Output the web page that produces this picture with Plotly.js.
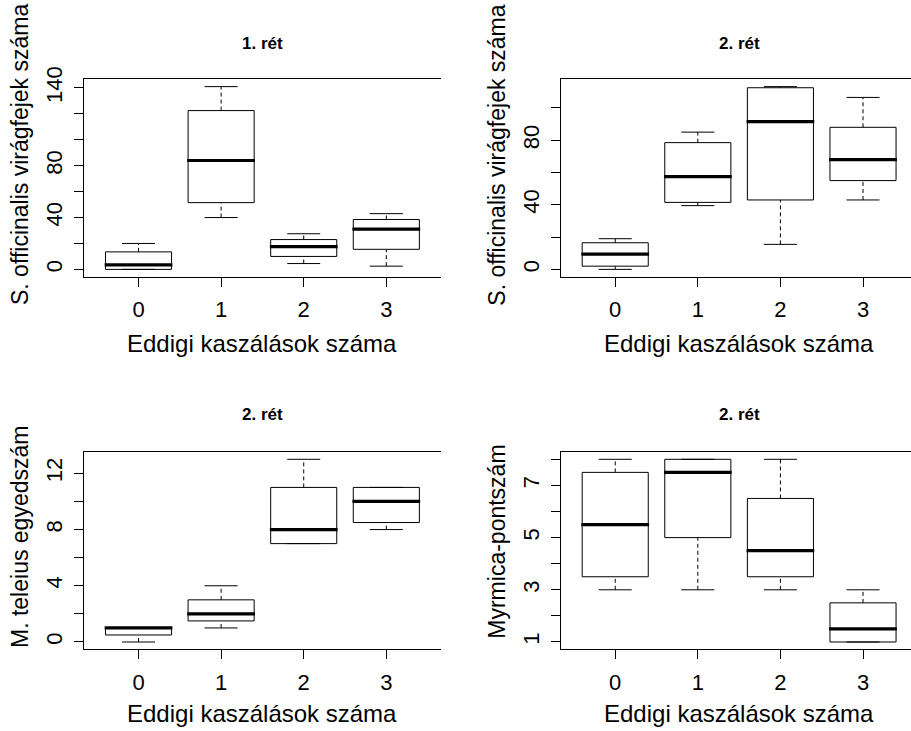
<!DOCTYPE html>
<html>
<head>
<meta charset="utf-8">
<script src="https://cdn.plot.ly/plotly-3.0.1.min.js"></script>
<style>html,body{margin:0;padding:0;background:#fff;}#chart{width:911px;height:731px;}</style>
</head>
<body>
<div id="chart"></div>
<script>
// categories (number of previous mowings)
const categories = [0, 1, 2, 3];
const xTickLabels = ['0', '1', '2', '3'];

// Panel 1: 1. rét, S. officinalis virágfejek száma
const p1Lower  = [0, 40, 4.5, 2.5];
const p1Q1     = [0, 51.5, 10, 15.5];
const p1Median = [3.5, 84, 17.5, 31];
const p1Q3     = [13.5, 122.5, 23, 38.5];
const p1Upper  = [20, 141, 27.5, 43];
const p1TickVals = [0, 20, 40, 60, 80, 100, 120, 140];
const p1TickText = ['0', '', '40', '', '80', '', '', '140'];

// Panel 2: 2. rét, S. officinalis virágfejek száma
const p2Lower  = [0, 39.5, 15.5, 43];
const p2Q1     = [2, 41.5, 43, 55];
const p2Median = [9.5, 57.5, 91.5, 68];
const p2Q3     = [16.5, 78.5, 112.5, 88];
const p2Upper  = [19, 85, 113.2, 106.5];
const p2TickVals = [0, 20, 40, 60, 80, 100];
const p2TickText = ['0', '', '40', '', '80', ''];

// Panel 3: 2. rét, M. teleius egyedszám
const p3Lower  = [0, 1, 7, 8];
const p3Q1     = [0.5, 1.5, 7, 8.5];
const p3Median = [1, 2, 8, 10];
const p3Q3     = [1, 3, 11, 11];
const p3Upper  = [1, 4, 13, 11];
const p3TickVals = [0, 2, 4, 6, 8, 10, 12];
const p3TickText = ['0', '', '4', '', '8', '', '12'];

// Panel 4: 2. rét, Myrmica-pontszám
const p4Lower  = [3, 3, 3, 1];
const p4Q1     = [3.5, 5, 3.5, 1];
const p4Median = [5.5, 7.5, 4.5, 1.5];
const p4Q3     = [7.5, 8, 6.5, 2.5];
const p4Upper  = [8, 8, 8, 3];
const p4TickVals = [1, 2, 3, 4, 5, 6, 7, 8];
const p4TickText = ['1', '', '3', '', '5', '', '7', ''];

const panelTitles = ['1. rét', '2. rét', '2. rét', '2. rét'];
const yTitles = ['S. officinalis virágfejek száma', 'S. officinalis virágfejek száma', 'M. teleius egyedszám', 'Myrmica-pontszám'];
const xTitle = 'Eddigi kaszálások száma';

const panels = [
  {lo: p1Lower, q1: p1Q1, med: p1Median, q3: p1Q3, hi: p1Upper, tv: p1TickVals, tt: p1TickText},
  {lo: p2Lower, q1: p2Q1, med: p2Median, q3: p2Q3, hi: p2Upper, tv: p2TickVals, tt: p2TickText},
  {lo: p3Lower, q1: p3Q1, med: p3Median, q3: p3Q3, hi: p3Upper, tv: p3TickVals, tt: p3TickText},
  {lo: p4Lower, q1: p4Q1, med: p4Median, q3: p4Q3, hi: p4Upper, tv: p4TickVals, tt: p4TickText}
];

const W = 911, H = 731;
const FONT = 'Liberation Sans, Arial, sans-serif';
const BOXW = 0.8, CAPW = 0.4;

// geometry (pixels)
const colLeft = [84, 560.7];
const rowTop = [79.3, 452];
const rowBot = [276.7, 649.3];
const pxPerCat = 82.6;

const traces = [];
const layout = {
  width: W, height: H,
  margin: {l: 0, r: 0, t: 0, b: 0},
  paper_bgcolor: '#fff', plot_bgcolor: '#fff',
  showlegend: false,
  annotations: [],
  font: {family: FONT, color: '#000'}
};

panels.forEach((p, i) => {
  const col = i % 2, row = Math.floor(i / 2);
  const sfx = i === 0 ? '' : String(i + 1);
  const xa = 'x' + sfx, ya = 'y' + sfx;
  const left = colLeft[col];
  const right = Math.min(W, left + 4.32 * pxPerCat);
  const xr0 = -0.66;
  const xr1 = xr0 + (right - left) / pxPerCat;

  const wx = [], wy = [], cx = [], cy = [], bx = [], by = [], mx = [], my = [];
  categories.forEach((c, k) => {
    wx.push(c, c, null, c, c, null);
    wy.push(p.lo[k], p.q1[k], null, p.q3[k], p.hi[k], null);
    cx.push(c - CAPW / 2, c + CAPW / 2, null, c - CAPW / 2, c + CAPW / 2, null);
    cy.push(p.lo[k], p.lo[k], null, p.hi[k], p.hi[k], null);
    bx.push(c - BOXW / 2, c + BOXW / 2, c + BOXW / 2, c - BOXW / 2, c - BOXW / 2, null);
    by.push(p.q1[k], p.q1[k], p.q3[k], p.q3[k], p.q1[k], null);
    mx.push(c - BOXW / 2 - 0.01, c + BOXW / 2 + 0.01, null);
    my.push(p.med[k], p.med[k], null);
  });
  const common = {type: 'scatter', mode: 'lines', xaxis: xa, yaxis: ya, hoverinfo: 'skip', connectgaps: false};
  traces.push(Object.assign({}, common, {x: wx, y: wy, line: {color: '#000', width: 1, dash: '4px,3px'}}));
  traces.push(Object.assign({}, common, {x: cx, y: cy, line: {color: '#000', width: 1}}));
  traces.push(Object.assign({}, common, {x: bx, y: by, line: {color: '#000', width: 1}}));
  traces.push(Object.assign({}, common, {x: mx, y: my, line: {color: '#000', width: 3.2}}));

  const dmin = Math.min(...p.lo), dmax = Math.max(...p.hi);
  const ext = (dmax - dmin) * 0.04;

  const xaxisKey = 'xaxis' + sfx, yaxisKey = 'yaxis' + sfx;
  layout[xaxisKey] = {
    domain: [left / W, right / W],
    anchor: ya,
    range: [xr0, xr1],
    tickvals: categories, ticktext: xTickLabels,
    ticks: 'outside', ticklen: 9, tickwidth: 1, tickcolor: '#000',
    showline: true, mirror: true, linecolor: '#000', linewidth: 1,
    showgrid: false, zeroline: false, fixedrange: true,
    tickfont: {family: FONT, size: 22, color: '#000'},
    ticklabelstandoff: 4
  };
  layout[yaxisKey] = {
    domain: [1 - rowBot[row] / H, 1 - rowTop[row] / H],
    anchor: xa,
    range: [dmin - ext, dmax + ext],
    tickvals: p.tv, ticktext: p.tt,
    ticks: 'outside', ticklen: 9, tickwidth: 1, tickcolor: '#000',
    showline: true, mirror: false, linecolor: '#000', linewidth: 1,
    showgrid: false, zeroline: false, fixedrange: true,
    tickangle: -90,
    tickfont: {family: FONT, size: 22, color: '#000'},
    ticklabelstandoff: 3
  };

  const boxCenterX = (left + left + 4.32 * pxPerCat) / 2;
  // panel title
  layout.annotations.push({
    text: '<b>' + panelTitles[i] + '</b>', xref: 'paper', yref: 'paper',
    x: boxCenterX / W, y: 1 - (row === 0 ? 43 : 415) / H,
    xanchor: 'center', yanchor: 'middle', showarrow: false,
    font: {family: FONT, size: 17, color: '#000'}
  });
  // x title
  layout.annotations.push({
    text: xTitle, xref: 'paper', yref: 'paper',
    x: boxCenterX / W, y: 1 - (row === 0 ? 343 : 713) / H,
    xanchor: 'center', yanchor: 'middle', showarrow: false,
    font: {family: FONT, size: 24, color: '#000'}
  });
  // y title
  const yCenters = [155, 155, 537, 542];
  layout.annotations.push({
    text: yTitles[i], xref: 'paper', yref: 'paper',
    x: (left - 64) / W, y: 1 - yCenters[i] / H,
    xanchor: 'center', yanchor: 'middle', textangle: -90, showarrow: false,
    font: {family: FONT, size: 23, color: '#000'}
  });
});

Plotly.newPlot('chart', traces, layout, {staticPlot: true, displayModeBar: false});
</script>
</body>
</html>
